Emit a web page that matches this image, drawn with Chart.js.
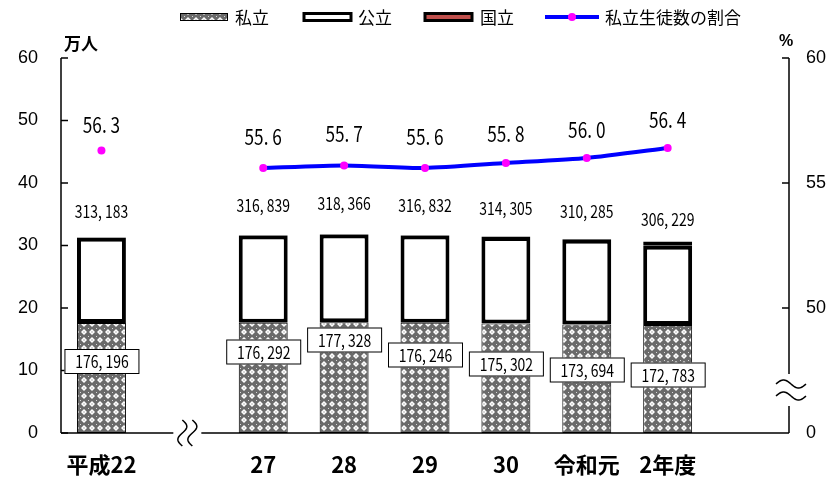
<!DOCTYPE html>
<html lang="ja">
<head>
<meta charset="utf-8">
<script src="https://cdn.jsdelivr.net/npm/chart.js@4/dist/chart.umd.min.js"></script>
<style>
  html, body { margin: 0; padding: 0; background: #fff; }
  #c { display: block; }
</style>
</head>
<body>
<canvas id="c" width="829" height="483"></canvas>
<script>
// 高等学校生徒数の推移（設置者別）と私立生徒数の割合
const categories = ['平成22', '', '27', '28', '29', '30', '令和元', '2年度', ''];
const privateStudents = [176196, null, 176292, 177328, 176246, 175302, 173694, 172783, null];
const totalStudents   = [313183, null, 316839, 318366, 316832, 314305, 310285, 306229, null];
const nationalStudents = [900, null, 900, 900, 900, 900, 900, 6500, null];
const privateShare = [56.3, null, 55.6, 55.7, 55.6, 55.8, 56.0, 56.4, null];
const leftTickValues = [0, 10, 20, 30, 40, 50, 60];
const rightTickLabels = { 45: '0', 50: '50', 55: '55', 60: '60' };

// 公立 = 合計 − 私立 − 国立
const publicStudents = totalStudents.map((t, i) =>
  t == null ? null : t - privateStudents[i] - nationalStudents[i]);
const toMan = v => (v == null ? null : v / 10000);

// label placement (value units for the boxed labels, pixels above for the others)
const privateLabelAt = [11.44, null, 12.96, 14.88, 12.48, 11.04, 10.08, 9.28, null];
const totalLabelGap  = [26, null, 29, 30, 29, 28, 28, 22, null];
const shareLabelGap  = [25, null, 31, 31, 31, 29, 28, 28, null];

const JP = '"Noto Sans CJK JP", "Noto Sans", sans-serif';
const NUM = '"Liberation Sans", Arial, sans-serif';

// 網掛けパターン（私立）
function makeHatch() {
  const t = document.createElement('canvas');
  t.width = 8; t.height = 8;
  const g = t.getContext('2d');
  g.fillStyle = '#6a6a6a';
  g.fillRect(0, 0, 8, 8);
  g.fillStyle = '#ffffff';
  g.beginPath();
  g.moveTo(4, 1); g.lineTo(7, 4); g.lineTo(4, 7); g.lineTo(1, 4); g.closePath();
  g.fill();
  g.fillStyle = '#6a6a6a';
  g.fillRect(3.5, 3.5, 1, 1);
  g.fillStyle = '#d8d8d8';
  g.fillRect(0, 0, 1, 1);
  return g.createPattern(t, 'repeat');
}
const hatch = makeHatch();

function condensed(ctx, text, cx, cy, size, sx) {
  ctx.save();
  ctx.translate(cx, cy);
  ctx.scale(sx, 1);
  ctx.font = size + 'px ' + JP;
  ctx.textAlign = 'center';
  ctx.textBaseline = 'middle';
  ctx.fillStyle = '#000';
  ctx.fillText(text, 0, 0);
  ctx.restore();
}
const fmtCount = v => v.toLocaleString('en-US').replace(',', ', ');
const fmtShare = v => v.toFixed(1).replace('.', '. ');

function vWave(ctx, cx, cy) {          // 縦向きの波線（横軸の省略記号）
  ctx.beginPath();
  for (let k = 0; k <= 26; k++) {
    const yy = cy - 13 + k;
    const xx = cx + 4.5 * Math.sin(k / 26 * Math.PI * 2);
    k ? ctx.lineTo(xx, yy) : ctx.moveTo(xx, yy);
  }
  ctx.stroke();
}
function hWave(ctx, cx, cy) {          // 横向きの波線（右軸の省略記号）
  ctx.beginPath();
  for (let k = 0; k <= 30; k++) {
    const xx = cx - 15 + k;
    const yy = cy - 4 * Math.sin(k / 30 * Math.PI * 2);
    k ? ctx.lineTo(xx, yy) : ctx.moveTo(xx, yy);
  }
  ctx.stroke();
}

const decor = {
  id: 'decor',
  afterDatasetsDraw(chart) {
    const { ctx, chartArea: a, scales: { x, y, y2 } } = chart;
    ctx.save();
    ctx.strokeStyle = '#000';
    ctx.lineWidth = 1.5;

    // 縦軸（左）
    ctx.beginPath();
    ctx.moveTo(a.left, a.top); ctx.lineTo(a.left, a.bottom);
    ctx.stroke();
    leftTickValues.forEach(v => {
      const py = y.getPixelForValue(v);
      ctx.beginPath(); ctx.moveTo(a.left, py); ctx.lineTo(a.left + 7, py); ctx.stroke();
    });

    // 縦軸（右）— 45〜0 の間を省略
    const brY = 390;
    ctx.beginPath();
    ctx.moveTo(a.right, a.top); ctx.lineTo(a.right, brY - 16);
    ctx.moveTo(a.right, brY + 16); ctx.lineTo(a.right, a.bottom);
    ctx.stroke();
    [50, 55, 60].forEach(v => {
      const py = y2.getPixelForValue(v);
      ctx.beginPath(); ctx.moveTo(a.right - 7, py); ctx.lineTo(a.right, py); ctx.stroke();
    });
    hWave(ctx, a.right + 2, brY - 6);
    hWave(ctx, a.right + 2, brY + 6);

    // 横軸 — 平成22 と 27 の間を省略
    const brX = x.getPixelForValue(1) + 4;
    ctx.beginPath();
    ctx.moveTo(a.left, a.bottom); ctx.lineTo(brX - 13, a.bottom);
    ctx.moveTo(brX + 15, a.bottom); ctx.lineTo(a.right, a.bottom);
    ctx.stroke();
    vWave(ctx, brX - 4, a.bottom);
    vWave(ctx, brX + 6, a.bottom);

    // 数値ラベル
    categories.forEach((c, i) => {
      if (totalStudents[i] == null) return;
      const px = x.getPixelForValue(i);
      // 私立（枠付き）
      const ly = y.getPixelForValue(privateLabelAt[i]);
      ctx.fillStyle = '#fff';
      ctx.fillRect(px - 37, ly - 12.5, 75, 25);
      ctx.lineWidth = 1;
      ctx.strokeRect(px - 36.5, ly - 12, 74, 24);
      condensed(ctx, fmtCount(privateStudents[i]), px + 0.5, ly + 0.5, 17, 0.82);
      // 合計
      const ty = y.getPixelForValue(toMan(totalStudents[i])) - totalLabelGap[i];
      condensed(ctx, fmtCount(totalStudents[i]), px, ty, 17, 0.82);
      // 私立生徒数の割合
      const sy = y2.getPixelForValue(privateShare[i]) - shareLabelGap[i];
      condensed(ctx, fmtShare(privateShare[i]), px, sy, 21, 0.82);
    });

    // 単位
    ctx.fillStyle = '#000';
    ctx.font = 'bold 17px ' + JP;
    ctx.textAlign = 'left';
    ctx.textBaseline = 'middle';
    ctx.fillText('万人', 64, 44);
    ctx.font = 'bold 16px ' + NUM;
    ctx.fillText('%', 779, 42);

    // 凡例
    const ly0 = 17;
    ctx.lineWidth = 1;
    ctx.fillStyle = hatch;
    ctx.fillRect(180, ly0 - 3.5, 48, 7);
    ctx.strokeRect(180.5, ly0 - 3.5, 47, 7);
    ctx.lineWidth = 3;
    ctx.fillStyle = '#fff';
    ctx.fillRect(304, ly0 - 3.5, 47, 7);
    ctx.strokeRect(304, ly0 - 3.5, 47, 7);
    ctx.fillStyle = '#c0504d';
    ctx.fillRect(425, ly0 - 3.5, 47, 7);
    ctx.strokeRect(425, ly0 - 3.5, 47, 7);
    ctx.strokeStyle = '#0000ff';
    ctx.lineWidth = 4;
    ctx.beginPath(); ctx.moveTo(545, ly0); ctx.lineTo(599, ly0); ctx.stroke();
    ctx.fillStyle = '#ff00ff';
    ctx.beginPath(); ctx.arc(572, ly0, 4, 0, Math.PI * 2); ctx.fill();
    ctx.fillStyle = '#000';
    ctx.font = '17px ' + JP;
    ctx.textBaseline = 'middle';
    ctx.fillText('私立', 235, ly0 + 1);
    ctx.fillText('公立', 358, ly0 + 1);
    ctx.fillText('国立', 480, ly0 + 1);
    ctx.fillText('私立生徒数の割合', 605, ly0 + 1);
    ctx.restore();
  }
};

new Chart(document.getElementById('c'), {
  data: {
    labels: categories,
    datasets: [
      {
        type: 'line', label: '私立生徒数の割合', yAxisID: 'y2', order: 0,
        data: privateShare,
        borderColor: '#0000ff', borderWidth: 4, tension: 0.2,
        pointRadius: 4, pointBackgroundColor: '#ff00ff', pointBorderWidth: 0,
        spanGaps: false
      },
      {
        type: 'bar', label: '私立', yAxisID: 'y', order: 1,
        data: privateStudents.map(toMan),
        backgroundColor: hatch, borderColor: '#000', borderWidth: 1, borderSkipped: false,
        barPercentage: 0.605, categoryPercentage: 1
      },
      {
        type: 'bar', label: '公立', yAxisID: 'y', order: 1,
        data: publicStudents.map(toMan),
        backgroundColor: '#fff', borderColor: '#000', borderWidth: 4, borderSkipped: false,
        barPercentage: 0.605, categoryPercentage: 1
      },
      {
        type: 'bar', label: '国立', yAxisID: 'y', order: 1,
        data: nationalStudents.map(toMan),
        backgroundColor: '#c0504d', borderColor: '#000', borderWidth: 4, borderSkipped: false,
        inflateAmount: 0,
        barPercentage: 0.605, categoryPercentage: 1
      }
    ]
  },
  options: {
    responsive: false,
    animation: false,
    devicePixelRatio: 1,
    layout: { padding: { top: 58, left: 0, right: 0, bottom: 0 } },
    plugins: { legend: { display: false }, tooltip: { enabled: false } },
    scales: {
      x: {
        stacked: true, offset: true,
        grid: { display: false, drawTicks: false }, border: { display: false },
        ticks: { color: '#000', font: { family: JP, size: 22, weight: 'bold' }, padding: 18, autoSkip: false, maxRotation: 0 },
        afterFit(s) { s.height = 50; }
      },
      y: {
        stacked: true, min: 0, max: 60,
        grid: { display: false, drawTicks: false }, border: { display: false },
        ticks: { stepSize: 10, color: '#000', font: { family: NUM, size: 18 }, padding: 23 },
        afterFit(s) { s.width = 61; }
      },
      y2: {
        position: 'right', min: 45, max: 60,
        grid: { display: false, drawTicks: false }, border: { display: false },
        ticks: { stepSize: 5, color: '#000', font: { family: NUM, size: 18 }, padding: 17,
                 callback: v => rightTickLabels[v] ?? '' },
        afterFit(s) { s.width = 40; }
      }
    }
  },
  plugins: [decor]
});
</script>
</body>
</html>
